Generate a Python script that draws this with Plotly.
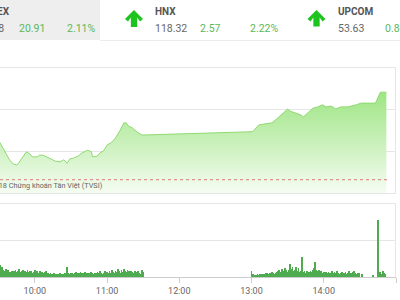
import plotly.graph_objects as go
import pandas as pd

DAY = "2018-01-01 "

# ---- price (index) series ----
price_times = ["09:28", "09:31", "09:33", "09:37", "09:39", "09:42", "09:45", "09:46", "09:49",
               "09:52", "09:53", "09:56", "09:58", "10:02", "10:04", "10:07", "10:10", "10:12",
               "10:17", "10:21", "10:24", "10:27", "10:29", "10:32", "10:36", "10:39", "10:42",
               "10:44", "10:47", "10:48", "10:52", "10:54", "10:57", "11:00", "11:04", "11:07",
               "11:11", "11:14", "11:16", "11:17:30", "11:21", "11:25", "11:29", "11:30",
               "13:01", "13:06", "13:10", "13:17", "13:22", "13:26", "13:30", "13:32", "13:37",
               "13:41", "13:43", "13:47", "13:51", "13:55", "13:59", "14:02", "14:06", "14:10",
               "14:14", "14:20", "14:24", "14:27", "14:31", "14:43", "14:47", "14:52"]
price_values = [1003.0, 1002.0, 1001.0, 999.0, 997.9, 996.9, 996.7, 996.9, 998.1,
                999.3, 999.8, 999.3, 998.6, 998.6, 999.0, 999.0, 998.6, 998.3,
                997.6, 997.4, 997.9, 997.1, 998.1, 998.3, 998.8, 999.5, 1000.0,
                1000.2, 999.8, 998.6, 998.8, 999.5, 1000.0, 1001.4, 1002.1, 1003.1,
                1005.0, 1006.7, 1006.7, 1006.0, 1005.5, 1004.5, 1003.8, 1003.8,
                1004.6, 1006.2, 1006.4, 1006.7, 1007.9, 1009.0, 1010.0, 1009.5, 1009.1,
                1008.6, 1008.1, 1009.1, 1010.2, 1010.5, 1011.0, 1010.5, 1010.7, 1010.0,
                1010.5, 1010.5, 1010.7, 1011.0, 1011.4, 1011.4, 1014.0, 1014.0]
ref_price = 993.17

# ---- volume series ----
vol_morning_start = "09:31"
vol_morning = [3.2, 2.0, 2.6, 1.9, 1.6, 2.2, 1.5, 1.8, 1.4,
               1.3, 1.7, 1.2, 1.5, 1.9, 1.4, 1.6, 2.1, 1.3, 1.5, 1.8, 1.2, 1.6, 1.4, 1.9, 1.3, 1.5,
               1.7, 1.2, 1.4, 2.0, 1.3, 1.5, 1.1, 1.6, 1.2, 1.4, 1.0, 1.3, 1.5, 1.1, 1.2, 0.9,
               1.0, 0.8, 0.7, 1.1, 0.8, 0.9, 0.7, 0.8, 1.0, 0.7, 0.9, 0.8, 1.0, 0.9, 2.6, 1.1, 0.9,
               1.0, 1.2, 0.9, 1.1, 1.3, 0.9, 1.0, 1.2, 1.4, 1.0, 1.1, 0.9, 1.3, 1.0, 1.2, 0.9, 1.1,
               1.3, 1.0, 0.9, 1.2, 1.0, 1.4, 1.1, 1.6,
               1.0, 0.9, 1.2, 1.5, 1.1, 1.3, 1.0, 1.6, 1.2, 1.9, 1.4, 1.1, 1.7, 1.3, 2.1, 1.5, 1.2,
               1.8, 1.4, 2.2, 1.6, 1.3, 1.9, 1.5, 1.2, 1.7, 1.4, 1.1, 1.6, 1.3, 1.0, 1.5, 1.2, 0.9,
               2.0, 1.3]
vol_afternoon_start = "13:00"
vol_afternoon = [1.6,
                 0.7, 0.6, 0.5, 0.6, 0.7, 0.6, 0.8, 0.7, 0.9, 0.8, 0.9,
                 1.0, 1.1, 0.9, 1.2, 1.0, 1.3, 1.1, 0.9, 1.2, 1.4,
                 1.6, 1.9, 1.4, 2.2, 1.7, 1.5, 2.4, 1.8, 1.4, 2.0,
                 3.5,
                 2.1, 2.6, 1.7, 1.9, 2.7, 1.5, 2.3, 1.4, 1.6,
                 5.4,
                 1.3, 1.6, 1.2, 1.5, 1.1, 1.4, 1.7, 1.3, 2.0, 2.4,
                 4.0,
                 1.9, 1.5, 1.8, 1.3, 1.6, 1.2, 1.4, 1.1, 1.3,
                 1.0, 1.4, 1.2, 0.9, 1.6, 1.1, 1.3, 1.0, 1.5, 1.2, 0.9, 1.1, 1.4, 1.0, 1.2, 1.3,
                 0.9, 1.1, 1.5, 1.2, 1.0, 1.3, 1.6, 1.1, 0.9, 1.2, 1.0]
vol_extra_times = ["14:32", "14:41", "14:45", "14:46", "14:47", "14:48", "14:49", "14:50", "14:51"]
vol_extra = [0.8, 0.5, 15.4, 0.9, 1.3, 0.8, 1.6, 1.1, 0.7]

x_ticks = ["10:00", "11:00", "12:00", "13:00", "14:00", "15:00"]

# ---- header texts ----
idx_names = ["VNINDEX", "HNX", "UPCOM"]
idx_values = ["1014.08", "118.32", "53.63"]
idx_changes = ["20.91", "2.57", "0.80"]
idx_pcts = ["2.11%", "2.22%", ""]
footer_text = "© 2018 Chứng khoán Tân Việt (TVSI)"

# ---------------------------------------------------------------
W, H = 400, 300
ML, MR, MT, MB = 0, 4, 67, 23
PW, PH = W - ML - MR, H - MT - MB


def pxx(x):
    return (x - ML) / PW


def pxy(y):
    return (H - MB - y) / PH


p_t = [DAY + t for t in price_times]
m_t = list(pd.date_range(DAY + vol_morning_start, periods=len(vol_morning), freq="min"))
a_t = list(pd.date_range(DAY + vol_afternoon_start, periods=len(vol_afternoon), freq="min"))
e_t = [pd.Timestamp(DAY + t) for t in vol_extra_times]
vol_times = m_t + a_t + e_t
vol_values = vol_morning + vol_afternoon + vol_extra

fig = go.Figure()
fig.add_trace(go.Scatter(
    x=p_t, y=price_values, mode="lines",
    line=dict(color="#8fda72", width=1),
    fill="tozeroy",
    fillgradient=dict(type="vertical", start=990, stop=1014,
                      colorscale=[[0, "#f5fcf2"], [1, "#9ee583"]]),
    xaxis="x", yaxis="y", hoverinfo="skip", showlegend=False))

fig.add_trace(go.Bar(
    x=vol_times, y=vol_values, width=40000,
    marker=dict(color="#4fab4f", line=dict(width=0)),
    xaxis="x2", yaxis="y2", hoverinfo="skip", showlegend=False))

xr = [DAY + "09:31:06", DAY + "15:00"]
fig.update_layout(
    width=W, height=H, margin=dict(l=ML, r=MR, t=MT, b=MB),
    paper_bgcolor="white", plot_bgcolor="white",
    font=dict(family="Roboto", color="#666666"),
    bargap=0,
    xaxis=dict(domain=[0, 1], range=xr, type="date", showticklabels=False,
               showgrid=False, zeroline=False, anchor="y"),
    yaxis=dict(domain=[pxy(193), 1], range=[990, 1020], tickvals=[1000, 1010],
               showticklabels=False, gridcolor="#e6e6e6", gridwidth=1, zeroline=False),
    xaxis2=dict(domain=[0, 1], range=xr, type="date", anchor="y2",
                tickvals=[DAY + t for t in x_ticks], ticktext=x_ticks,
                showgrid=False, zeroline=False, showline=True, linecolor="#cccccc",
                ticks="outside", ticklen=5, tickcolor="#cccccc",
                tickfont=dict(size=9, color="#666666")),
    yaxis2=dict(domain=[0, pxy(203)], range=[0, 20], tickvals=[10],
                showticklabels=False, gridcolor="#e6e6e6", zeroline=False),
)

shapes = []
# header panel
shapes.append(dict(type="rect", xref="paper", yref="paper", x0=pxx(-5), x1=pxx(100),
                   y0=pxy(40), y1=pxy(-5), fillcolor="#eeeeee", line=dict(width=0), layer="below"))
shapes.append(dict(type="line", xref="paper", yref="paper", x0=pxx(100), x1=pxx(405),
                   y0=pxy(40.5), y1=pxy(40.5), line=dict(color="#ececec", width=1)))
# price panel borders
for y in (67.5, 193.5):
    shapes.append(dict(type="line", xref="paper", yref="paper", x0=pxx(-2), x1=pxx(396),
                       y0=pxy(y), y1=pxy(y), line=dict(color="#e6e6e6", width=1)))
shapes.append(dict(type="line", xref="paper", yref="paper", x0=pxx(395.5), x1=pxx(395.5),
                   y0=pxy(67.5), y1=pxy(193.5), line=dict(color="#e6e6e6", width=1)))
# volume panel borders
shapes.append(dict(type="line", xref="paper", yref="paper", x0=pxx(-2), x1=pxx(396),
                   y0=pxy(203.5), y1=pxy(203.5), line=dict(color="#e6e6e6", width=1)))
shapes.append(dict(type="line", xref="paper", yref="paper", x0=pxx(395.5), x1=pxx(395.5),
                   y0=pxy(203.5), y1=pxy(277), line=dict(color="#e6e6e6", width=1)))
# reference (previous close) dotted line
shapes.append(dict(type="line", xref="paper", yref="y", x0=0, x1=pxx(388),
                   y0=ref_price, y1=ref_price, line=dict(color="#e07a7a", width=1, dash="dot")))


def arrow(cx, top, bottom, half):
    s = half * 0.35
    mid = top + half
    pts = [(cx, top), (cx + half, mid), (cx + half - 3, mid + 2.5), (cx + s, mid - 1.5),
           (cx + s, bottom), (cx - s, bottom), (cx - s, mid - 1.5), (cx - half + 3, mid + 2.5),
           (cx - half, mid)]
    path = "M " + " L ".join(f"{pxx(x):.5f},{pxy(y):.5f}" for x, y in pts) + " Z"
    return dict(type="path", xref="paper", yref="paper", path=path,
                fillcolor="#1ec41e", line=dict(width=0))


shapes.append(arrow(134, 10, 27, 9))
shapes.append(arrow(316.5, 10, 26.5, 9))
fig.update_layout(shapes=shapes)

ann = []


def txt(text, x, y, color="#666666", size=10.5, bold=False, anchor="left"):
    ann.append(dict(text=f"<b>{text}</b>" if bold else text, xref="paper", yref="paper",
                    x=pxx(x), y=pxy(y), xanchor=anchor, yanchor="middle", showarrow=False,
                    font=dict(size=size, color=color, family="Roboto"), borderpad=0))


green = "#5cb85c"
name_x = [11, 154, 337]
name_anchor = ["right", "left", "left"]
val_x = [5, 154, 337]
val_anchor = ["right", "left", "left"]
chg_x = [18, 199, 384]
pct_x = [66, 249, 430]
for i in range(3):
    txt(idx_names[i], name_x[i], 11.5, color="#555555", size=10, bold=True, anchor=name_anchor[i])
    txt(idx_values[i], val_x[i], 29, anchor=val_anchor[i])
    txt(idx_changes[i], chg_x[i], 29, color=green)
    if idx_pcts[i]:
        txt(idx_pcts[i], pct_x[i], 29, color=green)

txt(footer_text, 104, 185.5, color="#666666", size=7.3, anchor="right")
fig.update_layout(annotations=ann)

fig.write_html("out.html")
